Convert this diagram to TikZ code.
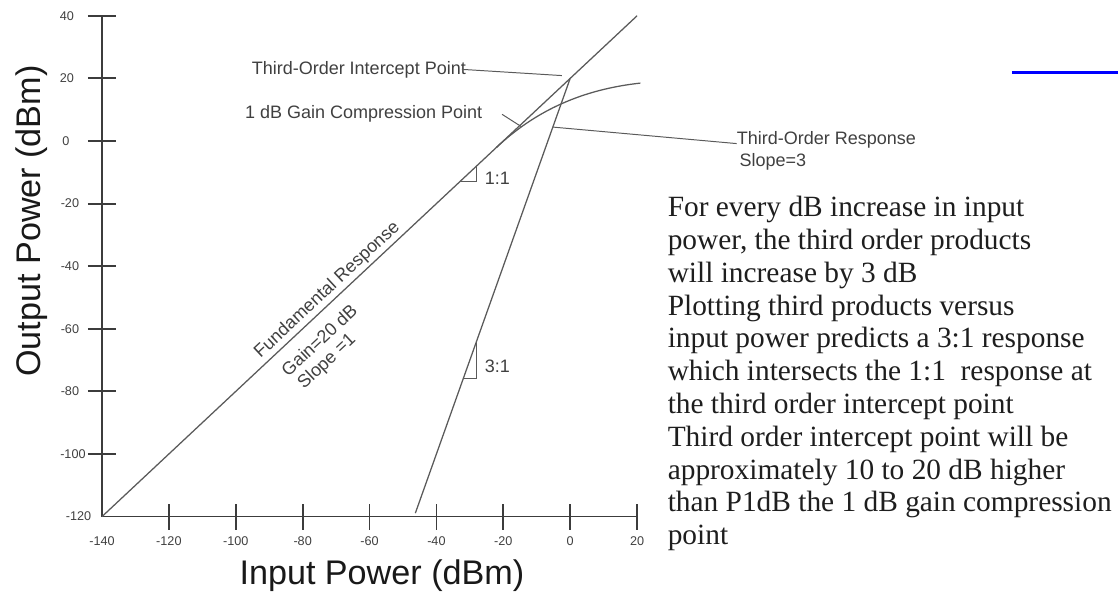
\documentclass[tikz,border=0pt]{standalone}
\usepackage{fontspec}
\setmainfont{Liberation Sans}
\newfontfamily\notefont{Liberation Serif}
\usepackage{xcolor}
\definecolor{plotgray}{HTML}{5A5A5A}
\definecolor{axisgray}{HTML}{3C3C3C}
\definecolor{labelgray}{HTML}{404040}
\definecolor{notetext}{HTML}{1E1E1E}
\usepackage{tikz}

\begin{document}
\begin{tikzpicture}[x=0.0836cm, y=0.07825cm, every node/.style={inner sep=0pt},
  axisln/.style={draw=axisgray, line width=1.3pt},
  respln/.style={draw=plotgray, line width=0.9pt},
  leader/.style={draw=plotgray, line width=0.7pt},
  ticklbl/.style={font=\fontsize{9}{10}\selectfont, text=labelgray},
  chartlbl/.style={font=\fontsize{12.8}{15}\selectfont, text=labelgray},
  axislbl/.style={font=\fontsize{24.3}{28}\selectfont, text=black!90},
  notelbl/.style={font=\notefont\fontsize{20.9}{24}\selectfont, text=notetext, anchor=base west}]
\useasboundingbox (-170.51,-145.69) rectangle (163.82,45.05);
\draw[axisln] (-140,40) -- (-140,-120) -- (20,-120);
\foreach \v in {40,20,...,-100}{
  \draw[axisln] (-144.2,\v) -- (-135.8,\v);
}
\foreach \v in {-120,-100,...,20}{
  \draw[axisln] (\v,-124.15) -- (\v,-115.85);
}
\foreach \v [count=\i] in {-140,-120,...,20}{
  \node[ticklbl] (xt\i) at (\v,-127.8) {\v};
}
\foreach \v/\c [count=\i] in {40/-150.5,20/-150.5,0/-150.8,-20/-149.6,-40/-149.6,-60/-149.6,-80/-149.6,-100/-148.7,-120/-147.0}{
  \node[ticklbl] (yt\i) at (\c,\v) {\v};
}
\node[axislbl, rotate=90, anchor=base] (ylbl) at (-158.4,-25.6) {Output Power (dBm)};
\node[axislbl, anchor=base] (xlbl) at (-56.3,-141.85) {Input Power (dBm)};
\draw[respln] (-140,-120) -- (20,40);
\draw[respln] (-22,-2) .. controls (-10,10) and (4,16.5) .. coordinate[pos=0.2] (cp) (21,18.5);
\draw[respln] (-46.3,-118.9) -- coordinate[pos=0.888] (tr) (0,20);
\coordinate (ipend) at (-2.5,20.9);
\draw[leader] (-33,-13) -- (-28,-13) -- (-28,-8);
\draw[leader] (-32,-76) -- (-28,-76) -- (-28,-64);
\node[chartlbl, anchor=base west] (onelbl) at (-25.6,-14.06) {1:1};
\node[chartlbl, anchor=base west] (threelbl) at (-25.6,-74.1) {3:1};
\node[chartlbl, rotate=43] (fundlbl) at (-72.6,-47.6) {Fundamental Response};
\node[chartlbl, rotate=43] (gainlbl) at (-75.1,-63.6) {Gain=20 dB};
\node[chartlbl, rotate=43] (slopelbl) at (-72.7,-70.6) {Slope =1};
\node[chartlbl, anchor=base west] (iplbl) at (-95.3,21.4) {Third-Order Intercept Point};
\node[chartlbl, anchor=base west] (cplbl) at (-97.3,7.03) {1 dB Gain Compression Point};
\node[chartlbl, anchor=base west] (trlbl) at (49.8,-1.28) {Third-Order Response};
\node[chartlbl, anchor=base west] (tslbl) at (50.6,-8.31) {Slope=3};
\draw[leader] ([xshift=-3pt]iplbl.east) -- (ipend);
\draw[leader] ([xshift=14pt]cplbl.east) -- (cp);
\draw[leader] (tr) -- ([yshift=1pt]trlbl.base west);
\foreach \t [count=\i from 0] in {For every dB increase in input,{power, the third order products},will increase by 3 dB,Plotting third products versus,input power predicts a 3:1 response,which intersects the 1:1\ \ response at,the third order intercept point,Third order intercept point will be,approximately 10 to 20 dB higher,than P1dB the 1 dB gain compression,point}{
  \node[notelbl] (note\i) at (29.1,-24.19-10.48*\i) {\t};
}
\draw[blue, line width=2pt] (132.1,22) -- (163.82,22);
\end{tikzpicture}
\end{document}
